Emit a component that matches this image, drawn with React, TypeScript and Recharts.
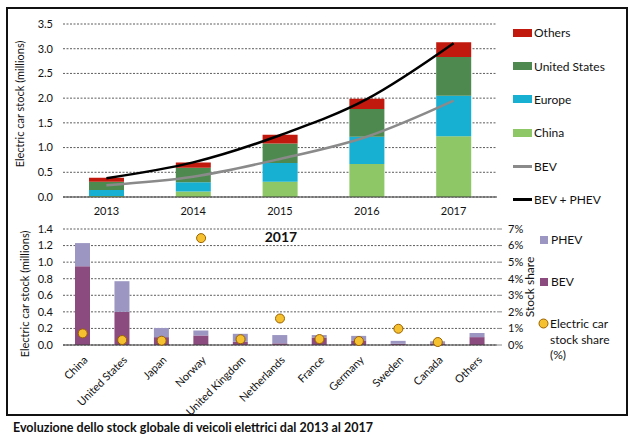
import React from 'react';
import { ComposedChart, Bar, Line, Scatter, XAxis, YAxis, CartesianGrid, Legend } from 'recharts';

// Global electric car stock by region (millions)
const years = ['2013', '2014', '2015', '2016', '2017'];
const chinaStock = [0.02, 0.11, 0.31, 0.67, 1.23];
const europeStock = [0.12, 0.19, 0.38, 0.55, 0.82];
const usStock = [0.17, 0.29, 0.39, 0.56, 0.78];
const othersStock = [0.08, 0.11, 0.18, 0.21, 0.3];
const bevTrend = [0.24, 0.41, 0.77, 1.22, 1.95];
const totalTrend = [0.38, 0.7, 1.25, 1.98, 3.11];
const stockTicks = [0, 0.5, 1, 1.5, 2, 2.5, 3, 3.5];

// 2017 stock by country (millions) and stock share (%)
const countries = ['China', 'United States', 'Japan', 'Norway', 'United Kingdom', 'Netherlands', 'France', 'Germany', 'Sweden', 'Canada', 'Others'];
const bev2017 = [0.95, 0.4, 0.095, 0.115, 0.04, 0.02, 0.09, 0.055, 0.015, 0.02, 0.095];
const phev2017 = [0.28, 0.37, 0.11, 0.06, 0.095, 0.1, 0.03, 0.055, 0.035, 0.025, 0.05];
const share2017: (number | null)[] = [0.7, 0.3, 0.26, 6.45, 0.35, 1.6, 0.36, 0.24, 0.98, 0.18, null];
const countryTicks = [0, 0.2, 0.4, 0.6, 0.8, 1, 1.2, 1.4];
const shareTicks = [0, 1, 2, 3, 4, 5, 6, 7];

const FONT = 'Lato, "Open Sans", sans-serif';
const TEXT = '#111111';
const C_CHINA = '#8dc766';
const C_EUROPE = '#17afd2';
const C_US = '#4e8a50';
const C_OTHERS = '#c1190d';
const C_BEV_LINE = '#8a8a8a';
const C_TOTAL_LINE = '#000000';
const C_PHEV = '#9c96c2';
const C_BEV = '#8c4b7f';
const C_DOT = '#f6c130';
const C_DOT_EDGE = '#9a6200';

const stockData = years.map((year, i) => ({
  year,
  China: chinaStock[i],
  Europe: europeStock[i],
  'United States': usStock[i],
  Others: othersStock[i],
  BEV: bevTrend[i],
  'BEV + PHEV': totalTrend[i],
}));

const countryData = countries.map((country, i) => ({
  country,
  BEV: bev2017[i],
  PHEV: phev2017[i],
  share: share2017[i],
}));

const stockLegend = [
  { label: 'Others', color: C_OTHERS, kind: 'bar' },
  { label: 'United States', color: C_US, kind: 'bar' },
  { label: 'Europe', color: C_EUROPE, kind: 'bar' },
  { label: 'China', color: C_CHINA, kind: 'bar' },
  { label: 'BEV', color: C_BEV_LINE, kind: 'line' },
  { label: 'BEV + PHEV', color: C_TOTAL_LINE, kind: 'line' },
];

const StockLegend = () => (
  <div style={{ fontFamily: FONT, fontSize: 12, color: TEXT }}>
    {stockLegend.map((item) => (
      <div key={item.label} style={{ height: 33.4, display: 'flex', alignItems: 'center' }}>
        <span
          style={{
            display: 'inline-block',
            width: 19,
            height: item.kind === 'bar' ? 8 : 2.5,
            background: item.color,
            marginRight: 2,
          }}
        />
        <span>{item.label}</span>
      </div>
    ))}
  </div>
);

const CountryLegend = () => (
  <div style={{ fontFamily: FONT, fontSize: 12, color: TEXT, position: 'relative', width: 95, height: 150 }}>
    <div style={{ position: 'absolute', left: 0, top: 17, display: 'flex', alignItems: 'center' }}>
      <span style={{ display: 'inline-block', width: 8, height: 8, background: C_PHEV, marginRight: 3 }} />
      <span>PHEV</span>
    </div>
    <div style={{ position: 'absolute', left: 0, top: 59, display: 'flex', alignItems: 'center' }}>
      <span style={{ display: 'inline-block', width: 8, height: 8, background: C_BEV, marginRight: 3 }} />
      <span>BEV</span>
    </div>
    <div style={{ position: 'absolute', left: -2, top: 101, display: 'flex', alignItems: 'flex-start' }}>
      <svg width={11} height={11} style={{ marginTop: 2, marginRight: 1 }}>
        <circle cx={5.5} cy={5.5} r={4.5} fill={C_DOT} stroke={C_DOT_EDGE} strokeWidth={1} />
      </svg>
      <span style={{ lineHeight: '15.5px' }}>
        Electric car
        <br />
        stock share
        <br />
        (%)
      </span>
    </div>
  </div>
);

const CountryTick = (props: any) => {
  const { x, y, payload } = props;
  return (
    <g transform={`translate(${x + 3},${y + 13})`}>
      <text
        transform="rotate(-45)"
        textAnchor="end"
        dy="0.35em"
        fontFamily={FONT}
        fontSize={11}
        fill={TEXT}
      >
        {payload.value}
      </text>
    </g>
  );
};

const ShareDot = (props: any) => {
  const { cx, cy, payload } = props;
  if (payload == null || payload.share == null || cx == null || cy == null) return <g />;
  return <circle cx={cx} cy={cy} r={4.5} fill={C_DOT} stroke={C_DOT_EDGE} strokeWidth={1} />;
};

const tickStyle = { fontFamily: FONT, fontSize: 11, fill: TEXT };

export default function App() {
  return (
    <div
      style={{
        position: 'absolute',
        left: 0,
        top: 0,
        width: 638,
        height: 444,
        background: '#fff',
        overflow: 'hidden',
        fontFamily: FONT,
      }}
    >
      <div
        style={{
          position: 'absolute',
          left: 6,
          top: 7,
          width: 618,
          height: 405,
          border: '2px solid #111',
        }}
      />

      <div style={{ position: 'absolute', left: 0, top: 0 }}>
        <ComposedChart width={638} height={220} data={stockData} margin={{ top: 24, right: 141, bottom: 0, left: 0 }}>
          <CartesianGrid vertical={false} stroke="#333" strokeWidth={0.8} strokeDasharray="2 1.5" />
          <XAxis
            dataKey="year"
            height={23}
            tickLine={false}
            axisLine={{ stroke: '#3a3a3a', strokeWidth: 1.2 }}
            tick={tickStyle}
            tickMargin={4}
          />
          <YAxis
            width={63}
            domain={[0, 3.5]}
            ticks={stockTicks}
            interval={0}
            tickFormatter={(v: number) => v.toFixed(1)}
            axisLine={false}
            tickLine={false}
            tickSize={0}
            tickMargin={10}
            tick={tickStyle}
          />
          <Bar dataKey="China" stackId="s" fill={C_CHINA} barSize={35} isAnimationActive={false} />
          <Bar dataKey="Europe" stackId="s" fill={C_EUROPE} barSize={35} isAnimationActive={false} />
          <Bar dataKey="United States" stackId="s" fill={C_US} barSize={35} isAnimationActive={false} />
          <Bar dataKey="Others" stackId="s" fill={C_OTHERS} barSize={35} isAnimationActive={false} />
          <Line
            type="monotone"
            dataKey="BEV"
            stroke={C_BEV_LINE}
            strokeWidth={2.5}
            dot={false}
            activeDot={false}
            isAnimationActive={false}
          />
          <Line
            type="monotone"
            dataKey="BEV + PHEV"
            stroke={C_TOTAL_LINE}
            strokeWidth={2.5}
            dot={false}
            activeDot={false}
            isAnimationActive={false}
          />
          <Legend
            layout="vertical"
            align="center"
            verticalAlign="middle"
            wrapperStyle={{ left: 513, top: 16, width: 120 }}
            content={() => <StockLegend />}
          />
          <text
            transform="translate(24,104) rotate(-90)"
            textAnchor="middle"
            fontFamily={FONT}
            fontSize={11}
            fill={TEXT}
          >
            Electric car stock (millions)
          </text>
        </ComposedChart>
      </div>

      <div style={{ position: 'absolute', left: 0, top: 215 }}>
        <ComposedChart width={638} height={205} data={countryData} margin={{ top: 14, right: 96, bottom: 0, left: 0 }}>
          <CartesianGrid yAxisId="left" vertical={false} stroke="#333" strokeWidth={0.8} strokeDasharray="2 1.5" />
          <XAxis
            dataKey="country"
            height={75}
            interval={0}
            tickLine={false}
            tickSize={0}
            tickMargin={0}
            axisLine={{ stroke: '#3a3a3a', strokeWidth: 1.2 }}
            tick={<CountryTick />}
          />
          <YAxis
            yAxisId="left"
            width={63}
            domain={[0, 1.4]}
            ticks={countryTicks}
            interval={0}
            tickFormatter={(v: number) => v.toFixed(1)}
            axisLine={false}
            tickLine={false}
            tickSize={0}
            tickMargin={10}
            tick={tickStyle}
          />
          <YAxis
            yAxisId="right"
            orientation="right"
            width={45}
            domain={[0, 7]}
            ticks={shareTicks}
            interval={0}
            tickFormatter={(v: number) => `${v}%`}
            axisLine={false}
            tickLine={{ stroke: '#8a8a8a' }}
            tickSize={5}
            tickMargin={6}
            tick={tickStyle}
          />
          <Bar yAxisId="left" dataKey="BEV" stackId="c" fill={C_BEV} barSize={15} isAnimationActive={false} />
          <Bar yAxisId="left" dataKey="PHEV" stackId="c" fill={C_PHEV} barSize={15} isAnimationActive={false} />
          <Scatter yAxisId="right" dataKey="share" shape={<ShareDot />} isAnimationActive={false} />
          <Legend
            layout="vertical"
            align="center"
            verticalAlign="middle"
            wrapperStyle={{ left: 540, top: 0, width: 95 }}
            content={() => <CountryLegend />}
          />
          <text x={281} y={26.5} textAnchor="middle" fontFamily={FONT} fontSize={14} fontWeight={700} fill={TEXT}>
            2017
          </text>
          <text
            transform="translate(29,79) rotate(-90)"
            textAnchor="middle"
            fontFamily={FONT}
            fontSize={11}
            fill={TEXT}
          >
            Electric car stock (millions)
          </text>
          <text
            transform="translate(534,72) rotate(-90)"
            textAnchor="middle"
            fontFamily={FONT}
            fontSize={12}
            fill={TEXT}
          >
            Stock share
          </text>
        </ComposedChart>
      </div>

      <div
        style={{
          position: 'absolute',
          left: 13,
          top: 420,
          fontFamily: FONT,
          fontSize: 12.5,
          fontWeight: 700,
          color: '#111',
          whiteSpace: 'nowrap',
        }}
      >
        Evoluzione dello stock globale di veicoli elettrici dal 2013 al 2017
      </div>
    </div>
  );
}
